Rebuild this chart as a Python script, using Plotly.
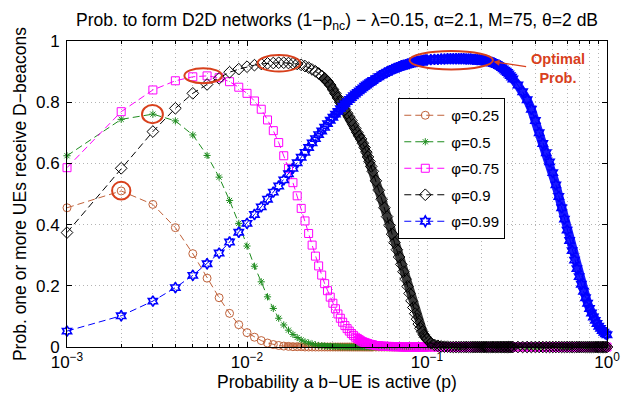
import plotly.graph_objects as go

# sampling grid of p (in thousandths)
P_MILLI = (list(range(1, 51)) + list(range(52, 101, 2))
           + list(range(105, 301, 5)) + list(range(320, 1001, 20)))
P = [m / 1000 for m in P_MILLI]

NAMES = ["φ=0.25", "φ=0.5", "φ=0.75", "φ=0.9", "φ=0.99"]

Y_025 = [
    0.455, 0.510, 0.466, 0.390, 0.305, 0.225, 0.161, 0.110, 0.073, 0.047,
    0.032, 0.021, 0.013, 0.008, 0.005, 0.003, 0.002, 0.001, 0.001, 0.001,
    0, 0, 0, 0, 0, 0, 0, 0, 0, 0, 0, 0, 0, 0, 0, 0, 0, 0, 0, 0,
    0, 0, 0, 0, 0, 0, 0, 0, 0, 0,
    0, 0, 0, 0, 0, 0, 0, 0, 0, 0, 0, 0, 0, 0, 0, 0, 0, 0, 0, 0, 0, 0, 0, 0, 0,
    0, 0, 0, 0, 0, 0, 0, 0, 0, 0, 0, 0, 0, 0, 0, 0, 0, 0, 0, 0,
    0, 0, 0, 0, 0, 0, 0, 0, 0, 0, 0, 0, 0, 0, 0, 0, 0, 0, 0, 0,
    0, 0, 0, 0, 0, 0, 0, 0, 0, 0, 0, 0, 0, 0, 0, 0, 0, 0, 0, 0,
    0, 0, 0, 0, 0, 0, 0, 0, 0, 0, 0, 0, 0, 0, 0,
]

Y_05 = [
    0.625, 0.744, 0.761, 0.739, 0.693, 0.626, 0.555, 0.479, 0.404, 0.330,
    0.264, 0.213, 0.164, 0.126, 0.094, 0.072, 0.055, 0.041, 0.031, 0.023,
    0.017, 0.013, 0.010, 0.007, 0.005, 0.004, 0.003, 0.002, 0.002, 0.001,
    0.001, 0.001, 0, 0, 0, 0, 0, 0, 0, 0, 0, 0, 0, 0, 0, 0, 0, 0, 0, 0,
    0, 0, 0, 0, 0, 0, 0, 0, 0, 0, 0, 0, 0, 0, 0, 0, 0, 0, 0, 0, 0, 0, 0, 0, 0,
    0, 0, 0, 0, 0, 0, 0, 0, 0, 0, 0, 0, 0, 0, 0, 0, 0, 0, 0, 0,
    0, 0, 0, 0, 0, 0, 0, 0, 0, 0, 0, 0, 0, 0, 0, 0, 0, 0, 0, 0,
    0, 0, 0, 0, 0, 0, 0, 0, 0, 0, 0, 0, 0, 0, 0, 0, 0, 0, 0, 0,
    0, 0, 0, 0, 0, 0, 0, 0, 0, 0, 0, 0, 0, 0, 0,
]

Y_075 = [
    0.586, 0.769, 0.840, 0.870, 0.883, 0.886, 0.880, 0.867, 0.849, 0.829,
    0.804, 0.777, 0.742, 0.707, 0.668, 0.625, 0.584, 0.537, 0.494, 0.453,
    0.412, 0.371, 0.333, 0.297, 0.265, 0.235, 0.207, 0.184, 0.163, 0.143,
    0.125, 0.108, 0.094, 0.081, 0.070, 0.060, 0.052, 0.044, 0.038, 0.032,
    0.028, 0.024, 0.020, 0.017, 0.015, 0.013, 0.011, 0.009, 0.008, 0.007,
    0.005, 0.004, 0.003, 0.003, 0.002, 0.002, 0.001, 0.001, 0.001, 0.001,
    0, 0, 0, 0, 0, 0, 0, 0, 0, 0, 0, 0, 0, 0, 0,
    0, 0, 0, 0, 0, 0, 0, 0, 0, 0, 0, 0, 0, 0, 0, 0, 0, 0, 0, 0,
    0, 0, 0, 0, 0, 0, 0, 0, 0, 0, 0, 0, 0, 0, 0, 0, 0, 0, 0, 0,
    0, 0, 0, 0, 0, 0, 0, 0, 0, 0, 0, 0, 0, 0, 0, 0, 0, 0, 0, 0,
    0, 0, 0, 0, 0, 0, 0, 0, 0, 0, 0, 0, 0, 0, 0,
]

Y_09 = [
    0.374, 0.584, 0.704, 0.780, 0.829, 0.858, 0.878, 0.898, 0.908, 0.916,
    0.921, 0.925, 0.927, 0.928, 0.929, 0.929, 0.928, 0.927, 0.925, 0.922,
    0.918, 0.913, 0.907, 0.901, 0.894, 0.886, 0.878, 0.868, 0.856, 0.842,
    0.828, 0.814, 0.800, 0.788, 0.776, 0.764, 0.752, 0.740, 0.727, 0.714,
    0.701, 0.690, 0.680, 0.666, 0.652, 0.637, 0.621, 0.606, 0.590, 0.574,
    0.543, 0.512, 0.483, 0.455, 0.426, 0.397, 0.369, 0.341, 0.318, 0.294,
    0.270, 0.246, 0.222, 0.198, 0.175, 0.151, 0.129, 0.109, 0.091, 0.075,
    0.061, 0.050, 0.040, 0.032, 0.025,
    0.013, 0.007, 0.004, 0.002, 0.001, 0.001, 0, 0, 0, 0, 0, 0, 0, 0, 0, 0, 0, 0, 0, 0,
    0, 0, 0, 0, 0, 0, 0, 0, 0, 0, 0, 0, 0, 0, 0, 0, 0, 0, 0, 0,
    0, 0, 0, 0, 0, 0, 0, 0, 0, 0, 0, 0, 0, 0, 0, 0, 0, 0, 0, 0,
    0, 0, 0, 0, 0, 0, 0, 0, 0, 0, 0, 0, 0, 0, 0,
]

Y_099 = [
    0.052, 0.102, 0.150, 0.194, 0.234, 0.272, 0.307, 0.343, 0.375, 0.404,
    0.433, 0.458, 0.483, 0.506, 0.526, 0.546, 0.566, 0.584, 0.602, 0.620,
    0.636, 0.652, 0.667, 0.681, 0.694, 0.706, 0.718, 0.730, 0.741, 0.751,
    0.761, 0.770, 0.779, 0.787, 0.795, 0.802, 0.809, 0.815, 0.821, 0.827,
    0.832, 0.837, 0.842, 0.847, 0.852, 0.856, 0.860, 0.864, 0.867, 0.871,
    0.877, 0.883, 0.889, 0.894, 0.898, 0.903, 0.907, 0.910, 0.913, 0.916,
    0.919, 0.921, 0.923, 0.925, 0.927, 0.929, 0.930, 0.932, 0.933, 0.934,
    0.935, 0.936, 0.937, 0.938, 0.938,
    0.939, 0.940, 0.940, 0.941, 0.941, 0.942, 0.942, 0.942, 0.942, 0.942,
    0.942, 0.942, 0.941, 0.941, 0.941, 0.940, 0.940, 0.939, 0.939, 0.938,
    0.937, 0.936, 0.935, 0.934, 0.932, 0.930, 0.928, 0.926, 0.923, 0.920,
    0.917, 0.913, 0.909, 0.905, 0.901, 0.897, 0.892, 0.887, 0.882, 0.876,
    0.856, 0.834, 0.808, 0.777, 0.740, 0.700, 0.665, 0.635, 0.605, 0.570,
    0.530, 0.492, 0.455, 0.418, 0.382, 0.348, 0.315, 0.284, 0.256, 0.230,
    0.205, 0.182, 0.161, 0.143, 0.126, 0.111, 0.098, 0.087, 0.077, 0.068,
    0.061, 0.054, 0.048, 0.043, 0.040,
]

SERIES = [Y_025, Y_05, Y_075, Y_09, Y_099]
for s in SERIES:
    assert len(s) == len(P), len(s)

# styling
COLORS = ["#C0623A", "#1E8C1E", "#FF00FF", "#000000", "#0000FF"]
BAND_COLORS = ["rgba(192,98,58,0.75)", "rgba(30,140,30,0.8)", "rgba(255,0,255,0.9)",
               "rgba(0,0,0,0.78)", "rgba(0,0,255,0.9)"]
SYMBOLS = ["circle-open", "asterisk-open", "square-open", "diamond-open", "hexagram-open"]
SIZES = [8, 6, 8, 9, 8]
MLW = [1, 1, 1, 1, 1.6]
# where the original's markers become so dense that they merge into a band
BAND_FROM = [0.016, 0.026, 0.04, 0.026, 0.03]
BAND_W = [7, 6, 8, 9, 9]

# highlighted peaks (x0, x1, y0, y1)
ELLIPSES = [
    (0.00178, 0.00225, 0.482, 0.540),
    (0.00261, 0.00341, 0.731, 0.791),
    (0.00449, 0.00726, 0.862, 0.911),
    (0.01145, 0.0198, 0.900, 0.954),
    (0.0800, 0.2324, 0.907, 0.967),
]
RED = "#D8401C"
FONT = "Liberation Sans, Arial, Helvetica, sans-serif"

fig = go.Figure()
for i, (name, y) in enumerate(zip(NAMES, SERIES)):
    bx = [p for p in P if p >= BAND_FROM[i]]
    by = [v for p, v in zip(P, y) if p >= BAND_FROM[i]]
    fig.add_trace(go.Scatter(
        x=bx, y=by, mode="lines", showlegend=False, hoverinfo="skip",
        cliponaxis=False, line=dict(color=BAND_COLORS[i], width=BAND_W[i]),
    ))
    fig.add_trace(go.Scatter(
        x=P, y=y, name=name, mode="lines+markers", legendgroup=name,
        cliponaxis=False,
        line=dict(color=COLORS[i], width=1, dash="7px,4px"),
        marker=dict(symbol=SYMBOLS[i], size=SIZES[i], color=COLORS[i],
                    line=dict(color=COLORS[i], width=MLW[i])),
    ))

for x0, x1, y0, y1 in ELLIPSES:
    fig.add_shape(type="circle", xref="x", yref="y", x0=x0, x1=x1, y0=y0, y1=y1,
                  line=dict(color=RED, width=2))

# arrow pointing at the optimal ellipse
fig.add_annotation(x=-0.630, y=0.932, xref="x", yref="y", text="",
                   showarrow=True, ax=34, ay=5, arrowhead=2, arrowsize=1,
                   arrowwidth=1.2, arrowcolor=RED, standoff=0)
fig.add_annotation(x=0.909, y=0.9085, xref="paper", yref="paper",
                   text="<b>Optimal</b><br><b>Prob.</b>", showarrow=False,
                   font=dict(family=FONT, size=14.5, color=RED),
                   xanchor="center", yanchor="middle", align="center")

minor_x = [k * 10 ** e for e in (-3, -2, -1) for k in range(2, 10)]
GRID_COLOR = "#b4b4b4"
GRID_DASH = "1px,3px"

fig.update_xaxes(
    type="log", range=[-3, 0], automargin=False,
    tickvals=[0.001, 0.01, 0.1, 1],
    ticktext=["10<sup>−3</sup>", "10<sup>−2</sup>", "10<sup>−1</sup>", "10<sup>0</sup>"],
    ticks="inside", ticklen=5, tickcolor="black",
    showline=True, linecolor="black", linewidth=1, mirror="ticks",
    showgrid=True, gridcolor=GRID_COLOR, griddash=GRID_DASH, gridwidth=1,
    minor=dict(tickvals=minor_x, ticks="inside", ticklen=3, tickcolor="black",
               showgrid=True, gridcolor=GRID_COLOR, griddash=GRID_DASH),
    zeroline=False,
    title=dict(text="Probability a b−UE is active (p)", standoff=2,
               font=dict(family=FONT, size=17.5, color="black")),
    tickfont=dict(family=FONT, size=17, color="black"),
)
fig.update_yaxes(
    range=[0, 1], dtick=0.2, automargin=False,
    ticks="inside", ticklen=5, tickcolor="black",
    showline=True, linecolor="black", linewidth=1, mirror="ticks",
    showgrid=True, gridcolor=GRID_COLOR, griddash=GRID_DASH, gridwidth=1,
    zeroline=False, ticklabelstandoff=3,
    title=dict(text="Prob. one or more UEs receive D−beacons", standoff=4,
               font=dict(family=FONT, size=17.5, color="black")),
    tickfont=dict(family=FONT, size=17, color="black"),
)

# The page body keeps the browser's default 8px margin, so the figure is made
# 8px smaller and its margins 8px tighter so that the plot lands where the
# original's does inside the 637x399 window.
fig.update_layout(
    width=629, height=391,
    margin=dict(l=59, r=30, t=33, b=52, autoexpand=False),
    paper_bgcolor="white", plot_bgcolor="white",
    title=dict(text="Prob. to form D2D networks (1−p<sub>nc</sub>) − λ=0.15, α=2.1, M=75, θ=2 dB",
               x=0.5, xref="paper", xanchor="center", y=0.970, yanchor="middle",
               yref="container", pad=dict(t=0, b=0),
               font=dict(family=FONT, size=17.5, color="black")),
    legend=dict(x=0.6135, y=0.8137, xanchor="left", yanchor="top",
                bgcolor="white", bordercolor="black", borderwidth=1,
                font=dict(family=FONT, size=15, color="black"),
                tracegroupgap=4, itemwidth=42),
    showlegend=True,
)

fig.write_html("out.html")
